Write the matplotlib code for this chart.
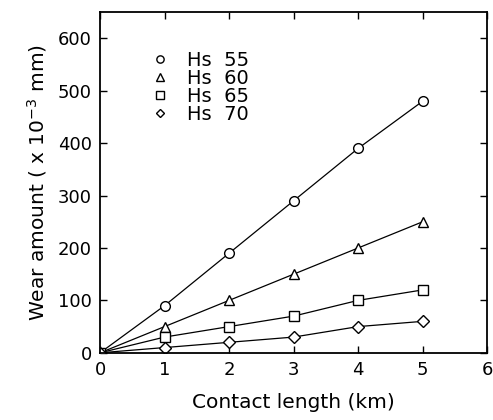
import matplotlib.pyplot as plt

# contact length (km) and wear amount (x 10^-3 mm)
length = [0, 1, 2, 3, 4, 5]
hs55 = [0, 90, 190, 290, 390, 480]
hs60 = [0, 50, 100, 150, 200, 250]
hs65 = [0, 30, 50, 70, 100, 120]
hs70 = [0, 10, 20, 30, 50, 60]
labels = ["Hs  55", "Hs  60", "Hs  65", "Hs  70"]
markers = ["o", "^", "s", "D"]

fig = plt.figure(figsize=(4.93, 4.2), dpi=100)
ax = fig.add_axes([0.203, 0.160, 0.785, 0.811])

for ys, m, lab in zip([hs55, hs60, hs65, hs70], markers, labels):
    ms = 6 if m == "D" else 7
    ax.plot(length, ys, color="black", lw=0.9, marker=m, ms=ms,
            mfc="white", mec="black", mew=1.0, label=lab)

ax.set_xlim(0, 6)
ax.set_ylim(0, 650)
ax.set_xticks(range(0, 7))
ax.set_yticks(range(0, 601, 100))
ax.tick_params(direction="in", top=True, right=True, length=5, width=1,
               labelsize=13, pad=6)
for s in ax.spines.values():
    s.set_linewidth(1.3)

ax.set_xlabel("Contact length (km)", fontsize=14.5, labelpad=10)
ax.set_ylabel("Wear amount ( x 10$^{-3}$ mm)", fontsize=14.5, labelpad=6)

# legend: markers only, no frame
handles, labs = ax.get_legend_handles_labels()
leg = ax.legend(handles, labs, loc="upper left", bbox_to_anchor=(0.11, 0.915),
                frameon=False, fontsize=14, handlelength=0.8,
                handletextpad=1.0, labelspacing=-0.05, borderpad=0,
                markerscale=0.75)
for h in leg.legend_handles:
    h.set_linestyle("none")

fig.savefig("out.png", dpi=100)
